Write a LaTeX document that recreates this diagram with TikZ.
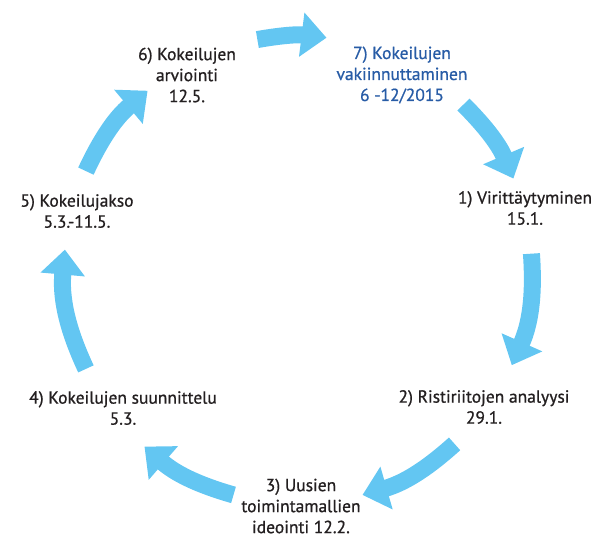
\documentclass[tikz,border=0pt]{standalone}
\usepackage{fontspec}
\setmainfont{PT Sans}
\newfontfamily\phasefont[FakeBold=0.8]{PT Sans}
\usetikzlibrary{arrows.meta}

\definecolor{cyclearrow}{RGB}{99,198,242}
\definecolor{phasetext}{RGB}{35,31,32}
\definecolor{phaseblue}{RGB}{40,92,166}

\tikzset{
    phase/.style={align=center, text=phasetext, font=\phasefont\fontsize{17.5}{21}\selectfont},
    bigarrow/.style={cyclearrow, line width=17pt, -{Triangle[width=43pt, length=25pt]}}
}

\begin{document}
\begin{tikzpicture}[x=1pt, y=1pt]
    \useasboundingbox (0,0) rectangle (594,538);
    \coordinate (c) at (298,268);

    % phases
    \node[phase, text=phaseblue] (p7) at (402,463) {7) Kokeilujen\\vakiinnuttaminen\\6 -12/2015};
    \node[phase] (p1) at (525,330) {1) Virittäytyminen\\15.1.};
    \node[phase] (p2) at (484,131) {2) Ristiriitojen analyysi\\29.1.};
    \node[phase] (p3) at (301,32) {3) Uusien\\toimintamallien\\ideointi 12.2.};
    \node[phase] (p4) at (123,130) {4) Kokeilujen suunnittelu\\5.3.};
    \node[phase] (p5) at (77,327) {5) Kokeilujakso\\5.3.-11.5.};
    \node[phase] (p6) at (187,463) {6) Kokeilujen\\arviointi\\12.5.};

    % arrow ends on the circle
    \path (c) ++(100:234) coordinate (s67);
    \path (c) ++(83:234) coordinate (e67);
    \path (c) ++(45:234) coordinate (s71);
    \path (c) ++(23:234) coordinate (e71);
    \path (c) ++(4:234) coordinate (s12);
    \path (c) ++(-24:234) coordinate (e12);
    \path (c) ++(-48:234) coordinate (s23);
    \path (c) ++(-74:234) coordinate (e23);
    \path (c) ++(-106:234) coordinate (s34);
    \path (c) ++(-131:234) coordinate (e34);
    \path (c) ++(-155:234) coordinate (s45);
    \path (c) ++(-185:234) coordinate (e45);
    \path (c) ++(155:234) coordinate (s56);
    \path (c) ++(130:234) coordinate (e56);

    \draw[bigarrow] (s67) to[bend left=8.5] (e67);
    \draw[bigarrow] (s71) to[bend left=11] (e71);
    \draw[bigarrow] (s12) to[bend left=14] (e12);
    \draw[bigarrow] (s23) to[bend left=13] (e23);
    \draw[bigarrow] (s34) to[bend left=12.5] (e34);
    \draw[bigarrow] (s45) to[bend left=15] (e45);
    \draw[bigarrow] (s56) to[bend left=12.5] (e56);
\end{tikzpicture}
\end{document}
